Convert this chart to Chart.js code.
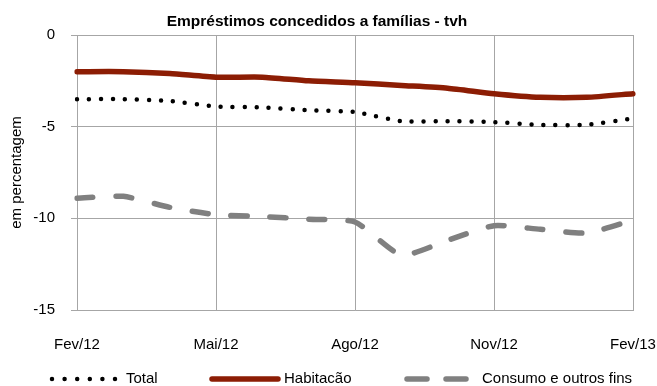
<!DOCTYPE html>
<html>
<head>
<meta charset="utf-8">
<script src="https://cdn.jsdelivr.net/npm/chart.js@4/dist/chart.umd.min.js"></script>
<style>
  html, body { margin: 0; padding: 0; background: #fff; }
  #wrap { width: 657px; height: 386px; }
</style>
</head>
<body>
<div id="wrap"><canvas id="grafico" width="657" height="386"></canvas></div>
<script>
// Meses (Fev/12 a Fev/13)
const meses = ['Fev/12', 'Mar/12', 'Abr/12', 'Mai/12', 'Jun/12', 'Jul/12', 'Ago/12',
               'Set/12', 'Out/12', 'Nov/12', 'Dez/12', 'Jan/13', 'Fev/13'];

// Taxas de variação homóloga (%)
const total       = [-3.5, -3.5, -3.6, -3.9, -3.95, -4.1, -4.2, -4.7, -4.7, -4.75, -4.9, -4.9, -4.55];
const habitacao   = [-2.0, -2.0, -2.1, -2.3, -2.3, -2.5, -2.6, -2.75, -2.9, -3.2, -3.4, -3.4, -3.2];
const consumo     = [-8.9, -8.8, -9.4, -9.8, -9.9, -10.05, -10.2, -12.0, -11.2, -10.4, -10.6, -10.8, -10.1];

const yTicks = [0, -5, -10, -15];

const fonte = "'Liberation Sans', Arial, sans-serif";
const cinzaGrelha = '#a6a6a6';

// Título e legenda desenhados à mão
const extras = {
  id: 'extras',
  afterDraw(chart) {
    const ctx = chart.ctx;
    ctx.save();
    ctx.fillStyle = '#000';
    ctx.font = 'bold 15.5px ' + fonte;
    ctx.textAlign = 'center';
    ctx.textBaseline = 'middle';
    ctx.fillText('Empréstimos concedidos a famílias - tvh', 317, 22);

    // legenda: [inicio da amostra, fim da amostra, inicio do texto]
    const pos = [[52, 116, 126], [212, 278, 284], [407, 471, 482]];
    const y = 379;
    chart.data.datasets.forEach((ds, i) => {
      const p = pos[i];
      ctx.beginPath();
      ctx.strokeStyle = ds.borderColor;
      ctx.lineWidth = ds.borderWidth;
      ctx.lineCap = 'round';
      ctx.setLineDash(ds.legendDash || ds.borderDash || []);
      ctx.moveTo(p[0], y);
      ctx.lineTo(p[1], y);
      ctx.stroke();
      ctx.setLineDash([]);
      ctx.font = '15px ' + fonte;
      ctx.textAlign = 'left';
      ctx.fillStyle = '#000';
      ctx.fillText(ds.label, p[2], y);
    });
    ctx.restore();
  }
};

const ctx = document.getElementById('grafico').getContext('2d');
const grafico = new Chart(ctx, {
  type: 'line',
  data: {
    labels: meses,
    datasets: [
      {
        label: 'Total',
        data: total,
        borderColor: '#000000',
        borderWidth: 4.5,
        borderDash: [0, 12],
        legendDash: [0, 12.6],
        borderCapStyle: 'round',
        pointRadius: 0,
        tension: 0.2
      },
      {
        label: 'Habitacão',
        data: habitacao,
        borderColor: '#8c1d04',
        borderWidth: 5.5,
        borderCapStyle: 'round',
        pointRadius: 0,
        tension: 0.2
      },
      {
        label: 'Consumo e outros fins',
        data: consumo,
        borderColor: '#808080',
        borderWidth: 5.5,
        borderDash: [16, 23],
        legendDash: [20, 19],
        borderCapStyle: 'round',
        pointRadius: 0,
        tension: 0.2
      }
    ]
  },
  options: {
    responsive: false,
    animation: false,
    layout: { padding: { left: 0, right: 24, top: 35, bottom: 26 } },
    plugins: {
      legend: { display: false },
      title: { display: false },
      tooltip: { enabled: false }
    },
    scales: {
      x: {
        afterFit(scale) {
          scale.height = 50;
          // os rótulos das pontas cabem nas margens
          scale.paddingLeft = 0;
          scale.paddingRight = 0;
        },
        grid: { color: cinzaGrelha, drawTicks: false },
        border: { color: cinzaGrelha },
        ticks: {
          autoSkip: false,
          maxRotation: 0,
          padding: 26,
          color: '#000',
          font: { family: fonte, size: 15 },
          callback(value, index) { return index % 3 === 0 ? meses[index] : null; }
        }
      },
      y: {
        min: yTicks[yTicks.length - 1],
        max: yTicks[0],
        afterFit(scale) { scale.width = 77; },
        afterBuildTicks(scale) { scale.ticks = yTicks.map(v => ({ value: v })); },
        grid: { color: cinzaGrelha, tickLength: 6 },
        border: { color: cinzaGrelha },
        title: {
          display: true,
          text: 'em percentagem',
          color: '#000',
          padding: { top: 8, bottom: 0 },
          font: { family: fonte, size: 15 }
        },
        ticks: {
          padding: 16,
          color: '#000',
          font: { family: fonte, size: 15 }
        }
      }
    }
  },
  plugins: [extras]
});
</script>
</body>
</html>
